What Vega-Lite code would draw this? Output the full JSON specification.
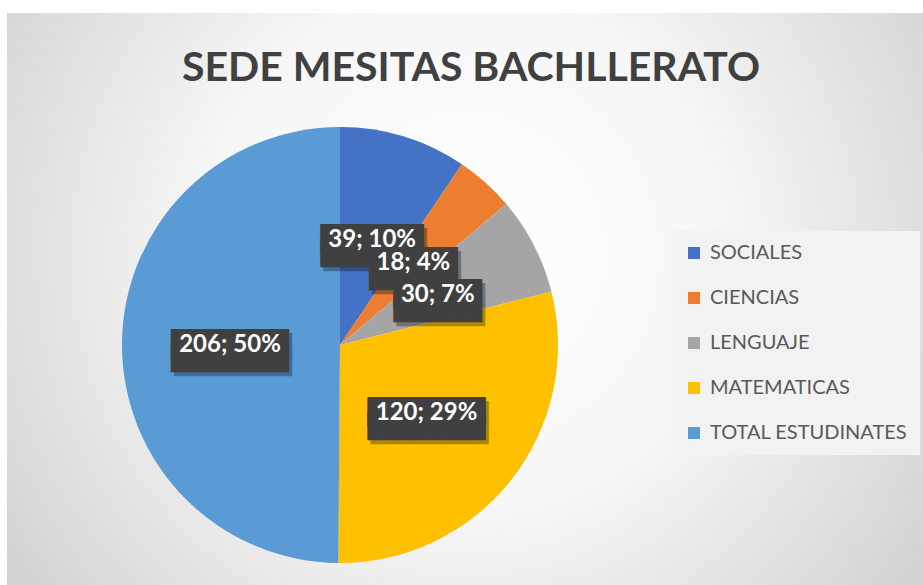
{
  "$schema": "https://vega.github.io/schema/vega-lite/v6.json",
  "width": 923,
  "height": 585,
  "autosize": {"type": "fit", "contains": "padding"},
  "padding": {"left": 7, "top": 13, "right": 0, "bottom": 0},
  "background": "white",
  "view": {"stroke": null},
  "title": {
    "text": "SEDE MESITAS BACHLLERATO",
    "frame": "group",
    "anchor": "middle",
    "offset": -77,
    "dx": 6,
    "font": "Lato",
    "fontSize": 41,
    "fontWeight": "bold",
    "color": "#404040"
  },
  "data": {
    "values": [
      {"order": 1, "area": "SOCIALES", "value": 39, "label": "39; 10%"},
      {"order": 2, "area": "CIENCIAS", "value": 18, "label": "18; 4%"},
      {"order": 3, "area": "LENGUAJE", "value": 30, "label": "30; 7%"},
      {"order": 4, "area": "MATEMATICAS", "value": 120, "label": "120; 29%"},
      {"order": 5, "area": "TOTAL ESTUDINATES", "value": 206, "label": "206; 50%"}
    ]
  },
  "transform": [
    {"stack": "value", "groupby": [], "sort": [{"field": "order", "order": "ascending"}], "as": ["v0", "v1"]},
    {"calculate": "(datum.v0 + datum.v1) / 2", "as": "mid"},
    {"calculate": "pad('', length(datum.label), '█')", "as": "boxline"},
    {"calculate": "[datum.boxline, datum.boxline]", "as": "box"}
  ],
  "layer": [
    {
      "mark": {
        "type": "rect",
        "x": 0, "y": 0, "x2": "width", "y2": "height",
        "fill": {
          "gradient": "radial",
          "x1": 0.5, "y1": 0.45, "r1": 0,
          "x2": 0.5, "y2": 0.45, "r2": 0.72,
          "stops": [
            {"offset": 0, "color": "#ffffff"},
            {"offset": 0.4, "color": "#f6f6f6"},
            {"offset": 1, "color": "#c6c6c6"}
          ]
        }
      },
      "encoding": {}
    },
    {
      "mark": {"type": "arc", "outerRadius": 218, "x": 333, "y": 332},
      "encoding": {
        "theta": {"field": "value", "type": "quantitative", "stack": true},
        "order": {"field": "order", "type": "quantitative"},
        "color": {
          "field": "area",
          "type": "nominal",
          "sort": ["SOCIALES", "CIENCIAS", "LENGUAJE", "MATEMATICAS", "TOTAL ESTUDINATES"],
          "scale": {
            "domain": ["SOCIALES", "CIENCIAS", "LENGUAJE", "MATEMATICAS", "TOTAL ESTUDINATES"],
            "range": ["#4472C4", "#ED7D31", "#A5A5A5", "#FFC000", "#5B9BD5"]
          },
          "legend": {
            "title": null,
            "orient": "none",
            "legendX": 665,
            "legendY": 218,
            "fillColor": "#f2f2f2",
            "padding": 12,
            "symbolType": "square",
            "symbolSize": 144,
            "symbolStrokeWidth": 0,
            "symbolOpacity": 1,
            "labelFont": "Lato",
            "labelFontSize": 20,
            "labelColor": "#595959",
            "labelOffset": 6,
            "rowPadding": 25,
            "labelLimit": 300
          }
        }
      }
    },
    {
      "transform": [{"filter": "datum.order == 1"}],
      "layer": [
        {"mark": {"type": "text", "radius": 110, "x": 336, "y": 336, "font": "DejaVu Sans Mono", "fontSize": 24.5, "lineHeight": 14, "baseline": "middle", "color": "#000000", "opacity": 0.3},
         "encoding": {"theta": {"field": "mid", "type": "quantitative"}, "text": {"field": "box"}}},
        {"mark": {"type": "text", "radius": 110, "x": 333, "y": 332, "font": "DejaVu Sans Mono", "fontSize": 24.5, "lineHeight": 14, "baseline": "middle", "color": "#404040"},
         "encoding": {"theta": {"field": "mid", "type": "quantitative"}, "text": {"field": "box"}}},
        {"mark": {"type": "text", "radius": 110, "x": 333, "y": 332, "font": "Lato", "fontSize": 24, "fontWeight": "bold", "baseline": "middle", "color": "#ffffff"},
         "encoding": {"theta": {"field": "mid", "type": "quantitative"}, "text": {"field": "label"}}}
      ]
    },
    {
      "transform": [{"filter": "datum.order == 2"}],
      "layer": [
        {"mark": {"type": "text", "radius": 110, "x": 336, "y": 336, "font": "DejaVu Sans Mono", "fontSize": 24.5, "lineHeight": 14, "baseline": "middle", "color": "#000000", "opacity": 0.3},
         "encoding": {"theta": {"field": "mid", "type": "quantitative"}, "text": {"field": "box"}}},
        {"mark": {"type": "text", "radius": 110, "x": 333, "y": 332, "font": "DejaVu Sans Mono", "fontSize": 24.5, "lineHeight": 14, "baseline": "middle", "color": "#404040"},
         "encoding": {"theta": {"field": "mid", "type": "quantitative"}, "text": {"field": "box"}}},
        {"mark": {"type": "text", "radius": 110, "x": 333, "y": 332, "font": "Lato", "fontSize": 24, "fontWeight": "bold", "baseline": "middle", "color": "#ffffff"},
         "encoding": {"theta": {"field": "mid", "type": "quantitative"}, "text": {"field": "label"}}}
      ]
    },
    {
      "transform": [{"filter": "datum.order >= 3"}],
      "layer": [
        {"mark": {"type": "text", "radius": 110, "x": 336, "y": 336, "font": "DejaVu Sans Mono", "fontSize": 24.5, "lineHeight": 14, "baseline": "middle", "color": "#000000", "opacity": 0.3},
         "encoding": {"theta": {"field": "mid", "type": "quantitative"}, "text": {"field": "box"}}},
        {"mark": {"type": "text", "radius": 110, "x": 333, "y": 332, "font": "DejaVu Sans Mono", "fontSize": 24.5, "lineHeight": 14, "baseline": "middle", "color": "#404040"},
         "encoding": {"theta": {"field": "mid", "type": "quantitative"}, "text": {"field": "box"}}},
        {"mark": {"type": "text", "radius": 110, "x": 333, "y": 332, "font": "Lato", "fontSize": 24, "fontWeight": "bold", "baseline": "middle", "color": "#ffffff"},
         "encoding": {"theta": {"field": "mid", "type": "quantitative"}, "text": {"field": "label"}}}
      ]
    }
  ]
}
